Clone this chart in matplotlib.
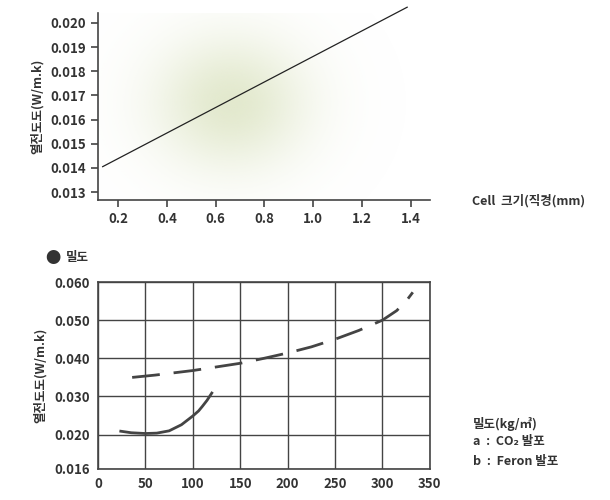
import matplotlib
matplotlib.use("Agg")
import matplotlib.pyplot as plt
import numpy as np

plt.rcParams['font.family'] = ['Noto Sans CJK KR', 'DejaVu Sans']

# 위 그래프: Cell 크기 vs 열전도도
cell_size = [0.137, 1.385]
cell_k = [0.01405, 0.02065]
top_xticks = [0.2, 0.4, 0.6, 0.8, 1.0, 1.2, 1.4]
top_yticks = [0.013, 0.014, 0.015, 0.016, 0.017, 0.018, 0.019, 0.020]

# 아래 그래프: 밀도 vs 열전도도
co2_density = [24, 35, 50, 62, 75, 88, 100, 106, 110, 115, 120]
co2_k = [0.0209, 0.0205, 0.0203, 0.0204, 0.0210, 0.0226, 0.0249, 0.0262, 0.0274, 0.0290, 0.0309]
feron_density = [36, 60, 100, 150, 175, 200, 225, 250, 275, 300, 315, 325, 332]
feron_k = [0.0350, 0.0356, 0.0368, 0.0387, 0.0400, 0.0414, 0.0430, 0.0450, 0.0473, 0.0500, 0.0525, 0.0550, 0.0573]
bot_xticks = [0, 50, 100, 150, 200, 250, 300, 350]
bot_yticks = [0.016, 0.020, 0.030, 0.040, 0.050, 0.060]
bot_ypos = [0, 0.9, 1.9, 2.9, 3.9, 4.9]

TXT = "#333333"
LINE = "#444444"
FS = 9.5

fig = plt.figure(figsize=(6.1, 5.0), dpi=100)

# ---- 위 그래프
ax1 = fig.add_axes([0.1607, 0.6, 0.544, 0.374])
# 배경 그라데이션
gx, gy = np.meshgrid(np.linspace(0, 1, 300), np.linspace(0, 1, 300))
r2 = ((gx - 0.40) / 0.36) ** 2 + ((gy - 0.52) / 0.55) ** 2
rgba = np.zeros((300, 300, 4))
rgba[..., 0] = 215 / 255
rgba[..., 1] = 224 / 255
rgba[..., 2] = 185 / 255
rgba[..., 3] = 0.7 * np.exp(-2.4 * r2)
ax1.imshow(rgba, extent=[0, 1, 0, 1], transform=ax1.transAxes, origin="lower",
           aspect="auto", zorder=0)

ax1.plot(cell_size, cell_k, color="#222222", linewidth=0.9, clip_on=False, zorder=3)
ax1.set_xlim(0.118, 1.478)
ax1.set_ylim(0.01267, 0.02041)
ax1.set_xticks(top_xticks)
ax1.set_xticklabels([f"{v:.1f}" for v in top_xticks])
ax1.set_yticks(top_yticks)
ax1.set_yticklabels([f"{v:.3f}" for v in top_yticks])
for s in ["top", "right"]:
    ax1.spines[s].set_visible(False)
for s in ["left", "bottom"]:
    ax1.spines[s].set_color(LINE)
    ax1.spines[s].set_linewidth(1.2)
ax1.tick_params(colors=LINE, labelcolor=TXT, labelsize=FS, length=5, width=1.2)
for lab in ax1.get_xticklabels() + ax1.get_yticklabels():
    lab.set_fontweight("bold")
ax1.set_ylabel("열전도도(W/m.k)", fontsize=9, fontweight="bold", color=TXT, labelpad=5)
fig.text(0.773, 0.598, "Cell  크기(직경(mm)", fontsize=9, fontweight="bold", color=TXT,
         va="center", ha="left")

# ---- 아래 그래프
ax2 = fig.add_axes([0.1607, 0.062, 0.544, 0.374])
fwd = lambda v: np.interp(v, bot_yticks, bot_ypos)
inv = lambda p: np.interp(p, bot_ypos, bot_yticks)
ax2.set_yscale("function", functions=(fwd, inv))
ax2.plot(co2_density, co2_k, color=LINE, linewidth=2.0, zorder=3)
ax2.plot(feron_density, feron_k, color=LINE, linewidth=2.0, dashes=(10, 5), zorder=3)
ax2.set_xlim(0, 350)
ax2.set_ylim(0.016, 0.0601)
ax2.set_xticks(bot_xticks)
ax2.set_yticks(bot_yticks)
ax2.set_yticklabels([f"{v:.3f}" for v in bot_yticks])
ax2.grid(True, color=LINE, linewidth=1.0)
ax2.set_axisbelow(True)
for s in ax2.spines.values():
    s.set_color(LINE)
    s.set_linewidth(1.2)
ax2.tick_params(colors=LINE, labelcolor=TXT, labelsize=FS, length=0, pad=6)
for lab in ax2.get_xticklabels() + ax2.get_yticklabels():
    lab.set_fontweight("bold")
ax2.set_ylabel("열전도도(W/m.k)", fontsize=9, fontweight="bold", color=TXT, labelpad=5)

fig.text(0.075, 0.484, "●", fontsize=11, color="#333333", va="center", ha="left")
fig.text(0.108, 0.484, "밀도", fontsize=9, fontweight="bold", color=TXT, va="center", ha="left")
fig.text(0.775, 0.152, "밀도(kg/㎥)", fontsize=9, fontweight="bold", color=TXT, va="center")
fig.text(0.775, 0.116, "a  :  CO₂ 발포", fontsize=9, fontweight="bold", color=TXT, va="center")
fig.text(0.775, 0.077, "b  :  Feron 발포", fontsize=9, fontweight="bold", color=TXT, va="center")

fig.savefig("out.png", dpi=100)
